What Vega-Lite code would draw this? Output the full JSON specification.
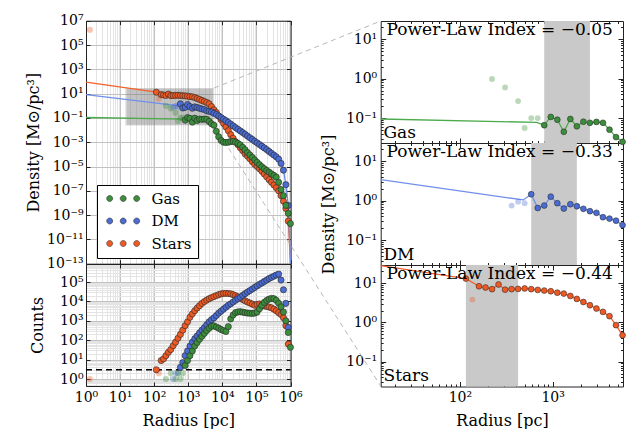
{
"$schema": "https://vega.github.io/schema/vega-lite/v6.json",
"width": 633, "height": 429, "padding": 0, "autosize": {"type": "none"},
"config": {
  "view": {"stroke": null},
  "font": "DejaVu Serif",
  "axis": {"labelFont": "DejaVu Serif", "titleFont": "DejaVu Serif", "labelFontSize": 14, "titleFontSize": 16, "titleFontWeight": "normal", "labelColor": "#000", "titleColor": "#000", "domainColor": "#222", "tickColor": "#222", "labelOverlap": false, "labelFlush": false, "grid": false, "labelBound": false}
},
"datasets": {
  "bins": [
    {"sp":"Stars","r":1.3,"rho":1.8e6,"cnt":1,"ok":0},
    {"sp":"Stars","r":116,"rho":13,"cnt":3,"ok":1},
    {"sp":"Stars","r":136.5,"rho":3.8,"cnt":2,"ok":0},
    {"sp":"Stars","r":160.5,"rho":8.3,"cnt":9,"ok":1},
    {"sp":"Stars","r":188.8,"rho":7.7,"cnt":11,"ok":1},
    {"sp":"Stars","r":222,"rho":7.0,"cnt":16,"ok":1},
    {"sp":"Stars","r":261,"rho":9.2,"cnt":24,"ok":1},
    {"sp":"Stars","r":307,"rho":6.8,"cnt":33,"ok":1},
    {"sp":"Stars","r":361,"rho":7.0,"cnt":52,"ok":1},
    {"sp":"Stars","r":424,"rho":7.1,"cnt":79,"ok":1},
    {"sp":"Stars","r":499,"rho":7.3,"cnt":126,"ok":1},
    {"sp":"Stars","r":587,"rho":7.0,"cnt":200,"ok":1},
    {"sp":"Stars","r":690,"rho":6.7,"cnt":331,"ok":1},
    {"sp":"Stars","r":811,"rho":6.45,"cnt":562,"ok":1},
    {"sp":"Stars","r":954,"rho":6.2,"cnt":891,"ok":1},
    {"sp":"Stars","r":1122,"rho":5.7,"cnt":1514,"ok":1},
    {"sp":"Stars","r":1319,"rho":5.4,"cnt":2291,"ok":1},
    {"sp":"Stars","r":1551,"rho":4.7,"cnt":3311,"ok":1},
    {"sp":"Stars","r":1823,"rho":3.95,"cnt":4571,"ok":1},
    {"sp":"Stars","r":2144,"rho":3.3,"cnt":6026,"ok":1},
    {"sp":"Stars","r":2521,"rho":2.73,"cnt":7943,"ok":1},
    {"sp":"Stars","r":2964,"rho":2.25,"cnt":9772,"ok":1},
    {"sp":"Stars","r":3485,"rho":1.85,"cnt":11749,"ok":1},
    {"sp":"Stars","r":4098,"rho":1.44,"cnt":13804,"ok":1},
    {"sp":"Stars","r":4819,"rho":0.85,"cnt":15849,"ok":1},
    {"sp":"Stars","r":5667,"rho":0.47,"cnt":17783,"ok":1},
    {"sp":"Stars","r":6663,"rho":0.28,"cnt":19953,"ok":1},
    {"sp":"Stars","r":7835,"rho":0.14,"cnt":22387,"ok":1},
    {"sp":"Stars","r":9213,"rho":0.07,"cnt":24547,"ok":1},
    {"sp":"Stars","r":10833,"rho":0.035,"cnt":25704,"ok":1},
    {"sp":"Stars","r":12738,"rho":0.018,"cnt":26303,"ok":1},
    {"sp":"Stars","r":14977,"rho":0.0089,"cnt":25704,"ok":1},
    {"sp":"Stars","r":17611,"rho":0.0042,"cnt":24547,"ok":1},
    {"sp":"Stars","r":20708,"rho":0.0021,"cnt":22387,"ok":1},
    {"sp":"Stars","r":24349,"rho":0.0011,"cnt":19953,"ok":1},
    {"sp":"Stars","r":28631,"rho":6.3e-4,"cnt":17378,"ok":1},
    {"sp":"Stars","r":33666,"rho":3.5e-4,"cnt":14791,"ok":1},
    {"sp":"Stars","r":39586,"rho":2.0e-4,"cnt":12589,"ok":1},
    {"sp":"Stars","r":46547,"rho":1.1e-4,"cnt":10715,"ok":1},
    {"sp":"Stars","r":54732,"rho":7.1e-5,"cnt":9333,"ok":1},
    {"sp":"Stars","r":64357,"rho":4.3e-5,"cnt":8318,"ok":1},
    {"sp":"Stars","r":75674,"rho":2.5e-5,"cnt":7244,"ok":1},
    {"sp":"Stars","r":88981,"rho":1.5e-5,"cnt":6310,"ok":1},
    {"sp":"Stars","r":104628,"rho":1.0e-5,"cnt":7079,"ok":1},
    {"sp":"Stars","r":123027,"rho":6.6e-6,"cnt":7413,"ok":1},
    {"sp":"Stars","r":144660,"rho":4.0e-6,"cnt":6457,"ok":1},
    {"sp":"Stars","r":170098,"rho":2.4e-6,"cnt":5888,"ok":1},
    {"sp":"Stars","r":200008,"rho":1.4e-6,"cnt":5495,"ok":1},
    {"sp":"Stars","r":235179,"rho":8.3e-7,"cnt":5129,"ok":1},
    {"sp":"Stars","r":276534,"rho":5.0e-7,"cnt":4677,"ok":1},
    {"sp":"Stars","r":325161,"rho":3.0e-7,"cnt":3981,"ok":1},
    {"sp":"Stars","r":382339,"rho":1.8e-7,"cnt":3311,"ok":1},
    {"sp":"Stars","r":449571,"rho":1.0e-7,"cnt":2630,"ok":1},
    {"sp":"Stars","r":528627,"rho":4.0e-8,"cnt":2089,"ok":1},
    {"sp":"Stars","r":621584,"rho":1.4e-8,"cnt":1445,"ok":1},
    {"sp":"Stars","r":730883,"rho":3.5e-9,"cnt":562,"ok":1},
    {"sp":"Stars","r":859402,"rho":3.2e-10,"cnt":63,"ok":1},
    {"sp":"Stars","r":1000000,"rho":1.1e-13,"ok":2},
    {"sp":"DM","r":361,"rho":0.75,"cnt":1,"ok":0},
    {"sp":"DM","r":424,"rho":0.94,"cnt":2,"ok":0},
    {"sp":"DM","r":499,"rho":0.86,"cnt":2,"ok":0},
    {"sp":"DM","r":587,"rho":1.45,"cnt":4,"ok":1},
    {"sp":"DM","r":690,"rho":0.65,"cnt":7,"ok":1},
    {"sp":"DM","r":811,"rho":0.75,"cnt":16,"ok":1},
    {"sp":"DM","r":954,"rho":1.26,"cnt":28,"ok":1},
    {"sp":"DM","r":1122,"rho":0.86,"cnt":50,"ok":1},
    {"sp":"DM","r":1319,"rho":0.63,"cnt":79,"ok":1},
    {"sp":"DM","r":1551,"rho":0.81,"cnt":120,"ok":1},
    {"sp":"DM","r":1823,"rho":0.72,"cnt":166,"ok":1},
    {"sp":"DM","r":2144,"rho":0.62,"cnt":240,"ok":1},
    {"sp":"DM","r":2521,"rho":0.54,"cnt":331,"ok":1},
    {"sp":"DM","r":2964,"rho":0.49,"cnt":447,"ok":1},
    {"sp":"DM","r":3485,"rho":0.38,"cnt":631,"ok":1},
    {"sp":"DM","r":4098,"rho":0.35,"cnt":891,"ok":1},
    {"sp":"DM","r":4819,"rho":0.31,"cnt":1148,"ok":1},
    {"sp":"DM","r":5667,"rho":0.24,"cnt":1413,"ok":1},
    {"sp":"DM","r":6663,"rho":0.19,"cnt":1862,"ok":1},
    {"sp":"DM","r":7835,"rho":0.145,"cnt":2512,"ok":1},
    {"sp":"DM","r":9213,"rho":0.107,"cnt":3162,"ok":1},
    {"sp":"DM","r":10833,"rho":0.079,"cnt":3981,"ok":1},
    {"sp":"DM","r":12738,"rho":0.059,"cnt":5012,"ok":1},
    {"sp":"DM","r":14977,"rho":0.043,"cnt":6310,"ok":1},
    {"sp":"DM","r":17611,"rho":0.031,"cnt":7586,"ok":1},
    {"sp":"DM","r":20708,"rho":0.022,"cnt":9333,"ok":1},
    {"sp":"DM","r":24349,"rho":0.016,"cnt":11482,"ok":1},
    {"sp":"DM","r":28631,"rho":0.0117,"cnt":13804,"ok":1},
    {"sp":"DM","r":33666,"rho":0.0085,"cnt":16596,"ok":1},
    {"sp":"DM","r":39586,"rho":0.0062,"cnt":20417,"ok":1},
    {"sp":"DM","r":46547,"rho":0.0045,"cnt":25119,"ok":1},
    {"sp":"DM","r":54732,"rho":0.0032,"cnt":30200,"ok":1},
    {"sp":"DM","r":64357,"rho":0.0023,"cnt":36308,"ok":1},
    {"sp":"DM","r":75674,"rho":0.0017,"cnt":43652,"ok":1},
    {"sp":"DM","r":88981,"rho":0.0012,"cnt":52481,"ok":1},
    {"sp":"DM","r":104628,"rho":8.9e-4,"cnt":63096,"ok":1},
    {"sp":"DM","r":123027,"rho":6.5e-4,"cnt":75858,"ok":1},
    {"sp":"DM","r":144660,"rho":4.7e-4,"cnt":89125,"ok":1},
    {"sp":"DM","r":170098,"rho":3.4e-4,"cnt":107152,"ok":1},
    {"sp":"DM","r":200008,"rho":2.45e-4,"cnt":125893,"ok":1},
    {"sp":"DM","r":235179,"rho":1.74e-4,"cnt":151356,"ok":1},
    {"sp":"DM","r":276534,"rho":1.23e-4,"cnt":173780,"ok":1},
    {"sp":"DM","r":325161,"rho":8.7e-5,"cnt":199526,"ok":1},
    {"sp":"DM","r":382339,"rho":6.2e-5,"cnt":229087,"ok":1},
    {"sp":"DM","r":449571,"rho":4.0e-5,"cnt":257040,"ok":1},
    {"sp":"DM","r":528627,"rho":1.8e-5,"cnt":125893,"ok":1},
    {"sp":"DM","r":621584,"rho":5.0e-6,"cnt":39811,"ok":1},
    {"sp":"DM","r":730883,"rho":3.2e-7,"cnt":7943,"ok":1},
    {"sp":"DM","r":859402,"rho":6.3e-9,"cnt":457,"ok":1},
    {"sp":"DM","r":1000000,"rho":1.1e-13,"ok":2},
    {"sp":"Gas","r":222,"rho":0.98,"cnt":1,"ok":0},
    {"sp":"Gas","r":307,"rho":0.6,"cnt":2,"ok":0},
    {"sp":"Gas","r":424,"rho":0.27,"cnt":1,"ok":0},
    {"sp":"Gas","r":499,"rho":0.056,"cnt":2,"ok":0},
    {"sp":"Gas","r":587,"rho":0.1,"cnt":1,"ok":0},
    {"sp":"Gas","r":690,"rho":0.1,"cnt":2,"ok":0},
    {"sp":"Gas","r":811,"rho":0.066,"cnt":5,"ok":1},
    {"sp":"Gas","r":954,"rho":0.107,"cnt":9,"ok":1},
    {"sp":"Gas","r":1122,"rho":0.091,"cnt":16,"ok":1},
    {"sp":"Gas","r":1319,"rho":0.045,"cnt":28,"ok":1},
    {"sp":"Gas","r":1551,"rho":0.095,"cnt":50,"ok":1},
    {"sp":"Gas","r":1823,"rho":0.062,"cnt":76,"ok":1},
    {"sp":"Gas","r":2144,"rho":0.081,"cnt":112,"ok":1},
    {"sp":"Gas","r":2521,"rho":0.076,"cnt":158,"ok":1},
    {"sp":"Gas","r":2964,"rho":0.08,"cnt":224,"ok":1},
    {"sp":"Gas","r":3485,"rho":0.076,"cnt":316,"ok":1},
    {"sp":"Gas","r":4098,"rho":0.051,"cnt":417,"ok":1},
    {"sp":"Gas","r":4819,"rho":0.033,"cnt":525,"ok":1},
    {"sp":"Gas","r":5667,"rho":0.025,"cnt":550,"ok":1},
    {"sp":"Gas","r":6663,"rho":0.0079,"cnt":479,"ok":1},
    {"sp":"Gas","r":7835,"rho":0.0028,"cnt":417,"ok":1},
    {"sp":"Gas","r":9213,"rho":0.0014,"cnt":355,"ok":1},
    {"sp":"Gas","r":10833,"rho":0.001,"cnt":316,"ok":1},
    {"sp":"Gas","r":12738,"rho":9.5e-4,"cnt":282,"ok":1},
    {"sp":"Gas","r":14977,"rho":0.001,"cnt":501,"ok":1},
    {"sp":"Gas","r":17611,"rho":0.00112,"cnt":1259,"ok":1},
    {"sp":"Gas","r":20708,"rho":0.00117,"cnt":1995,"ok":1},
    {"sp":"Gas","r":24349,"rho":0.001,"cnt":2630,"ok":1},
    {"sp":"Gas","r":28631,"rho":7.9e-4,"cnt":2884,"ok":1},
    {"sp":"Gas","r":33666,"rho":6.0e-4,"cnt":2951,"ok":1},
    {"sp":"Gas","r":39586,"rho":3.8e-4,"cnt":2818,"ok":1},
    {"sp":"Gas","r":46547,"rho":2.4e-4,"cnt":2630,"ok":1},
    {"sp":"Gas","r":54732,"rho":1.41e-4,"cnt":2512,"ok":1},
    {"sp":"Gas","r":64357,"rho":8.9e-5,"cnt":2455,"ok":1},
    {"sp":"Gas","r":75674,"rho":5.6e-5,"cnt":2399,"ok":1},
    {"sp":"Gas","r":88981,"rho":3.5e-5,"cnt":2512,"ok":1},
    {"sp":"Gas","r":104628,"rho":2.2e-5,"cnt":2818,"ok":1},
    {"sp":"Gas","r":123027,"rho":1.41e-5,"cnt":4169,"ok":1},
    {"sp":"Gas","r":144660,"rho":9.5e-6,"cnt":6310,"ok":1},
    {"sp":"Gas","r":170098,"rho":6.6e-6,"cnt":8913,"ok":1},
    {"sp":"Gas","r":200008,"rho":4.7e-6,"cnt":11220,"ok":1},
    {"sp":"Gas","r":235179,"rho":3.4e-6,"cnt":13183,"ok":1},
    {"sp":"Gas","r":276534,"rho":2.5e-6,"cnt":14454,"ok":1},
    {"sp":"Gas","r":325161,"rho":1.86e-6,"cnt":13804,"ok":1},
    {"sp":"Gas","r":382339,"rho":1.32e-6,"cnt":11482,"ok":1},
    {"sp":"Gas","r":449571,"rho":5.0e-7,"cnt":7943,"ok":1},
    {"sp":"Gas","r":528627,"rho":1.26e-7,"cnt":5248,"ok":1},
    {"sp":"Gas","r":621584,"rho":4.0e-8,"cnt":2818,"ok":1},
    {"sp":"Gas","r":730883,"rho":6.3e-9,"cnt":1000,"ok":1},
    {"sp":"Gas","r":859402,"rho":1.41e-9,"cnt":251,"ok":1},
    {"sp":"Gas","r":995000,"rho":2.0e-10,"cnt":43,"ok":1}
  ],
  "fits": [
    {"sp":"Gas","r":1,"rho":0.108,"view":"L"},{"sp":"Gas","r":14,"rho":0.095,"view":"R"},{"sp":"Gas","r":672,"rho":0.078,"view":"B"},{"sp":"Gas","r":811,"rho":0.066,"view":"B"},
    {"sp":"DM","r":1,"rho":8.1,"view":"L"},{"sp":"DM","r":14,"rho":3.4,"view":"R"},{"sp":"DM","r":482,"rho":1.04,"view":"B"},{"sp":"DM","r":587,"rho":1.45,"view":"B"},
    {"sp":"Stars","r":1,"rho":89,"view":"L"},{"sp":"Stars","r":14,"rho":27.9,"view":"R"},{"sp":"Stars","r":116,"rho":13,"view":"B"}
  ],
  "bands": [{"sp":"Gas","r1":811,"r2":2521},{"sp":"DM","r1":587,"r2":1823},{"sp":"Stars","r1":116,"r2":424}],
  "zoomrects": [{"r1":14,"r2":5730,"lo":0.0234,"hi":28.8},{"r1":16,"r2":5000,"lo":0.027,"hi":25},{"r1":15,"r2":5400,"lo":0.025,"hi":27}],
  "links": [{"r":5730,"rho":28.8,"r2":4.44e8,"rho2":9.45e6},{"r":5730,"rho":0.0234,"r2":4.44e8,"rho2":8.5e-24}],
  "thresh": [{"cut":3}],
  "notes": [{"sp":"Gas","index":"Power-Law Index = −0.05"},{"sp":"DM","index":"Power-Law Index = −0.33"},{"sp":"Stars","index":"Power-Law Index = −0.44"}]
},
"layer": [
  {"data":{"name":"zoomrects"},"mark":{"type":"rect","fill":"#7a7a7a","fillOpacity":0.18},
   "encoding":{
     "x":{"field":"r1","type":"quantitative","scale":{"type":"log","domain":[1,1000000],"range":[86,290.5],"nice":false},
          "axis":{"orient":"top","values":[2,3,4,5,6,7,8,9,20,30,40,50,60,70,80,90,200,300,400,500,600,700,800,900,2000,3000,4000,5000,6000,7000,8000,9000,20000,30000,40000,50000,60000,70000,80000,90000,200000,300000,400000,500000,600000,700000,800000,900000],"grid":true,"gridColor":"#e4e4e4","domain":false,"ticks":false,"labels":false,"title":null}},
     "x2":{"field":"r2"},
     "y":{"field":"hi","type":"quantitative","scale":{"type":"log","domain":[1e-13,1e7],"range":[263.7,20.7],"nice":false},"axis":null},
     "y2":{"field":"lo"}}},
  {"data":{"name":"fits"},"transform":[{"filter":"datum.view != 'R'"}],"mark":{"type":"line","strokeWidth":1.3},
   "encoding":{
     "x":{"field":"r","type":"quantitative","scale":{"type":"log","domain":[1,1000000],"range":[86,290.5],"nice":false},
          "axis":{"orient":"top","offset":-20.7,"values":[1,10,100,1000,10000,100000,1000000],"grid":true,"gridColor":"#c2c2c2","domain":true,"ticks":true,"tickSize":-4,"labels":false,"title":null}},
     "y":{"field":"rho","type":"quantitative","scale":{"type":"log","domain":[1e-13,1e7],"range":[263.7,20.7],"nice":false},
          "axis":{"orient":"right","offset":-342.5,"values":[10000000,100000,1000,10,0.1,0.001,0.00001,1e-7,1e-9,1e-11,1e-13],"domain":true,"ticks":true,"tickSize":-4,"labels":false,"title":null}},
     "stroke":{"field":"sp","type":"nominal","scale":{"domain":["Gas","DM","Stars"],"range":["#4daa4d","#6f8fea","#f4602a"]},"legend":null}}},
  {"data":{"name":"bins"},"transform":[{"filter":"datum.ok >= 1"}],"mark":{"type":"line","strokeWidth":1.3},
   "encoding":{
     "x":{"field":"r","type":"quantitative","scale":{"type":"log","domain":[1,1000000],"range":[86,290.5],"nice":false},"axis":null},
     "y":{"field":"rho","type":"quantitative","scale":{"type":"log","domain":[1e-13,1e7],"range":[263.7,20.7],"nice":false},"axis":null},
     "stroke":{"field":"sp","type":"nominal","scale":{"domain":["Gas","DM","Stars"],"range":["#4daa4d","#6f8fea","#f4602a"]},"legend":null}}},
  {"data":{"name":"links"},"mark":{"type":"rule","color":"#b8b8b8","strokeDash":[5,4],"strokeWidth":1},
   "encoding":{
     "x":{"field":"r","type":"quantitative","scale":{"type":"log","domain":[1,1000000],"range":[86,290.5],"nice":false},"axis":null},
     "x2":{"field":"r2"},
     "y":{"field":"rho","type":"quantitative","scale":{"type":"log","domain":[1e-13,1e7],"range":[263.7,20.7],"nice":false},"axis":null},
     "y2":{"field":"rho2"}}},
  {"data":{"name":"bins"},"transform":[{"filter":"datum.ok == 0"}],"mark":{"type":"point","filled":true,"size":38,"opacity":0.35,"strokeWidth":0},
   "encoding":{
     "x":{"field":"r","type":"quantitative","scale":{"type":"log","domain":[1,1000000],"range":[86,290.5],"nice":false},"axis":null},
     "y":{"field":"rho","type":"quantitative","scale":{"type":"log","domain":[1e-13,1e7],"range":[263.7,20.7],"nice":false},"axis":null},
     "color":{"field":"sp","type":"nominal","scale":{"domain":["Gas","DM","Stars"],"range":["#3b8e3b","#4a6cd4","#ef5a24"]},"legend":null}}},
  {"data":{"name":"bins"},"transform":[{"filter":"datum.ok == 1"}],"mark":{"type":"point","filled":true,"size":38,"opacity":1,"stroke":"#2a2a2a","strokeWidth":0.8,"strokeOpacity":0.8},
   "encoding":{
     "x":{"field":"r","type":"quantitative","scale":{"type":"log","domain":[1,1000000],"range":[86,290.5],"nice":false},
          "axis":{"orient":"bottom","offset":-165.3,"values":[1,10,100,1000,10000,100000,1000000],"domain":true,"ticks":true,"tickSize":-4,"labels":false,"title":null}},
     "y":{"field":"rho","type":"quantitative","scale":{"type":"log","domain":[1e-13,1e7],"range":[263.7,20.7],"nice":false},
          "axis":{"orient":"left","offset":-86,"values":[10000000,100000,1000,10,0.1,0.001,0.00001,1e-7,1e-9,1e-11,1e-13],"grid":true,"gridColor":"#c2c2c2","domain":true,"ticks":true,"tickSize":-4,"labelPadding":7,
                  "labelExpr":"'10' + replace(replace(replace(replace(replace(replace(replace(replace(replace(replace(replace(toString(round(log(datum.value)/LN10)),regexp('-','g'),'⁻'),regexp('0','g'),'⁰'),regexp('1','g'),'¹'),regexp('2','g'),'²'),regexp('3','g'),'³'),regexp('4','g'),'⁴'),regexp('5','g'),'⁵'),regexp('6','g'),'⁶'),regexp('7','g'),'⁷'),regexp('8','g'),'⁸'),regexp('9','g'),'⁹')",
                  "title":"Density [M⊙/pc³]","titlePadding":5}},
     "color":{"field":"sp","type":"nominal","scale":{"domain":["Gas","DM","Stars"],"range":["#3b8e3b","#4a6cd4","#ef5a24"]},
              "legend":{"orient":"none","legendX":97,"legendY":185,"direction":"vertical","title":null,"fillColor":"#ffffff","strokeColor":"#000000","cornerRadius":0,"padding":6,
                        "symbolType":"M-3.3,0a0.6,0.6 0 1,0 1.2,0a0.6,0.6 0 1,0 -1.2,0M-0.6,0a0.6,0.6 0 1,0 1.2,0a0.6,0.6 0 1,0 -1.2,0M2.1,0a0.6,0.6 0 1,0 1.2,0a0.6,0.6 0 1,0 -1.2,0",
                        "symbolSize":100,"symbolOpacity":1,"symbolStrokeColor":"#333333","symbolStrokeWidth":0.6,"symbolOffset":12.7,"labelFont":"DejaVu Serif","labelFontSize":15,"labelOffset":20.7,"rowPadding":6.5,"labelColor":"#000"}}}},

  {"data":{"name":"bins"},"transform":[{"filter":"datum.ok == 0"}],"mark":{"type":"point","filled":true,"size":38,"opacity":0.35,"strokeWidth":0},
   "encoding":{
     "x":{"field":"r","type":"quantitative","scale":{"type":"log","domain":[1,1000000],"range":[86,290.5],"nice":false},
          "axis":{"orient":"top","values":[2,3,4,5,6,7,8,9,20,30,40,50,60,70,80,90,200,300,400,500,600,700,800,900,2000,3000,4000,5000,6000,7000,8000,9000,20000,30000,40000,50000,60000,70000,80000,90000,200000,300000,400000,500000,600000,700000,800000,900000],"grid":true,"gridColor":"#e4e4e4","domain":false,"ticks":false,"labels":false,"title":null}},
     "y":{"field":"cnt","type":"quantitative","scale":{"type":"log","domain":[0.436,850000],"range":[386,264],"nice":false},
          "axis":{"orient":"left","values":[0.5,0.6,0.7,0.8,0.9,2,3,4,5,6,7,8,9,20,30,40,50,60,70,80,90,200,300,400,500,600,700,800,900,2000,3000,4000,5000,6000,7000,8000,9000,20000,30000,40000,50000,60000,70000,80000,90000,200000,300000,400000,500000,600000,700000,800000],"grid":true,"gridColor":"#e4e4e4","domain":false,"ticks":false,"labels":false,"title":null}},
     "color":{"field":"sp","type":"nominal","scale":{"domain":["Gas","DM","Stars"],"range":["#3b8e3b","#4a6cd4","#ef5a24"]},"legend":null}}},
  {"data":{"name":"thresh"},"mark":{"type":"rule","color":"#000","strokeDash":[6,4],"strokeWidth":1.5},
   "encoding":{
     "x":{"datum":1,"type":"quantitative","scale":{"type":"log","domain":[1,1000000],"range":[86,290.5],"nice":false},
          "axis":{"orient":"top","offset":-264,"values":[1,10,100,1000,10000,100000,1000000],"grid":true,"gridColor":"#c2c2c2","domain":true,"ticks":true,"tickSize":-4,"labels":false,"title":null}},
     "x2":{"datum":1000000},
     "y":{"field":"cut","type":"quantitative","scale":{"type":"log","domain":[0.436,850000],"range":[386,264],"nice":false},
          "axis":{"orient":"right","offset":-342.5,"values":[1,10,100,1000,10000,100000],"domain":true,"ticks":true,"tickSize":-4,"labels":false,"title":null}}}},
  {"data":{"name":"bins"},"transform":[{"filter":"datum.ok == 1"}],"mark":{"type":"point","filled":true,"size":38,"opacity":1,"stroke":"#2a2a2a","strokeWidth":0.8,"strokeOpacity":0.8},
   "encoding":{
     "x":{"field":"r","type":"quantitative","scale":{"type":"log","domain":[1,1000000],"range":[86,290.5],"nice":false},
          "axis":{"orient":"bottom","offset":-43,"values":[1,10,100,1000,10000,100000,1000000],"domain":true,"ticks":true,"tickSize":-4,"labelPadding":8,
                  "labelExpr":"'10' + replace(replace(replace(replace(replace(replace(replace(replace(replace(replace(replace(toString(round(log(datum.value)/LN10)),regexp('-','g'),'⁻'),regexp('0','g'),'⁰'),regexp('1','g'),'¹'),regexp('2','g'),'²'),regexp('3','g'),'³'),regexp('4','g'),'⁴'),regexp('5','g'),'⁵'),regexp('6','g'),'⁶'),regexp('7','g'),'⁷'),regexp('8','g'),'⁸'),regexp('9','g'),'⁹')",
                  "title":"Radius [pc]","titlePadding":8}},
     "y":{"field":"cnt","type":"quantitative","scale":{"type":"log","domain":[0.436,850000],"range":[386,264],"nice":false},
          "axis":{"orient":"left","offset":-86,"values":[1,10,100,1000,10000,100000],"grid":true,"gridColor":"#c2c2c2","domain":true,"ticks":true,"tickSize":-4,"labelPadding":7,
                  "labelExpr":"'10' + replace(replace(replace(replace(replace(replace(replace(replace(replace(replace(replace(toString(round(log(datum.value)/LN10)),regexp('-','g'),'⁻'),regexp('0','g'),'⁰'),regexp('1','g'),'¹'),regexp('2','g'),'²'),regexp('3','g'),'³'),regexp('4','g'),'⁴'),regexp('5','g'),'⁵'),regexp('6','g'),'⁶'),regexp('7','g'),'⁷'),regexp('8','g'),'⁸'),regexp('9','g'),'⁹')",
                  "title":"Counts","titlePadding":14}},
     "color":{"field":"sp","type":"nominal","scale":{"domain":["Gas","DM","Stars"],"range":["#3b8e3b","#4a6cd4","#ef5a24"]},"legend":null}}},

  {"data":{"name":"bands"},"transform":[{"filter":"datum.sp == 'Gas'"}],"mark":{"type":"rect","fill":"#c9c9c9"},
   "encoding":{
     "x":{"field":"r1","type":"quantitative","scale":{"type":"log","domain":[14,5730],"range":[380.7,623],"nice":false},
          "axis":{"orient":"bottom","offset":-286,"values":[100,1000],"domain":true,"ticks":true,"tickSize":-5,"labels":false,"title":null}},
     "x2":{"field":"r2"},
     "y":{"datum":0.0234,"type":"quantitative","scale":{"type":"log","domain":[0.0234,28.8],"range":[143,21],"nice":false},
          "axis":{"orient":"left","offset":-380.7,"values":[0.1,1,10],"domain":true,"ticks":true,"tickSize":-5,"labelPadding":9,
                  "labelExpr":"'10' + replace(replace(replace(replace(replace(replace(replace(replace(replace(replace(replace(toString(round(log(datum.value)/LN10)),regexp('-','g'),'⁻'),regexp('0','g'),'⁰'),regexp('1','g'),'¹'),regexp('2','g'),'²'),regexp('3','g'),'³'),regexp('4','g'),'⁴'),regexp('5','g'),'⁵'),regexp('6','g'),'⁶'),regexp('7','g'),'⁷'),regexp('8','g'),'⁸'),regexp('9','g'),'⁹')",
                  "title":null}},
     "y2":{"datum":28.8}}},
  {"data":{"name":"fits"},"transform":[{"filter":"datum.sp == 'Gas' && datum.view != 'L'"}],"mark":{"type":"line","strokeWidth":1.3},
   "encoding":{
     "x":{"field":"r","type":"quantitative","scale":{"type":"log","domain":[14,5730],"range":[380.7,623],"nice":false},
          "axis":{"orient":"top","offset":-21,"values":[100,1000],"domain":true,"ticks":true,"tickSize":-5,"labels":false,"title":null}},
     "y":{"field":"rho","type":"quantitative","scale":{"type":"log","domain":[0.0234,28.8],"range":[143,21],"nice":false},
          "axis":{"orient":"right","offset":-10,"values":[0.1,1,10],"domain":true,"ticks":true,"tickSize":-5,"labels":false,"title":null}},
     "stroke":{"field":"sp","type":"nominal","scale":{"domain":["Gas","DM","Stars"],"range":["#4daa4d","#6f8fea","#f4602a"]},"legend":null}}},
  {"data":{"name":"bins"},"transform":[{"filter":"datum.sp == 'Gas' && datum.ok == 1 && datum.r <= 5730"}],"mark":{"type":"line","strokeWidth":1.3},
   "encoding":{
     "x":{"field":"r","type":"quantitative","scale":{"type":"log","domain":[14,5730],"range":[380.7,623],"nice":false},
          "axis":{"orient":"bottom","offset":-286,"values":[20,30,40,50,60,70,80,90,200,300,400,500,600,700,800,900,2000,3000,4000,5000],"domain":false,"ticks":true,"tickSize":-2.5,"labels":false,"title":null}},
     "y":{"field":"rho","type":"quantitative","scale":{"type":"log","domain":[0.0234,28.8],"range":[143,21],"nice":false},
          "axis":{"orient":"left","offset":-380.7,"values":[0.03,0.04,0.05,0.06,0.07,0.08,0.09,0.2,0.3,0.4,0.5,0.6,0.7,0.8,0.9,2,3,4,5,6,7,8,9,20],"domain":false,"ticks":true,"tickSize":-2.5,"labels":false,"title":null}},
     "stroke":{"field":"sp","type":"nominal","scale":{"domain":["Gas","DM","Stars"],"range":["#4daa4d","#6f8fea","#f4602a"]},"legend":null}}},
  {"data":{"name":"bins"},"transform":[{"filter":"datum.sp == 'Gas' && datum.ok == 0 && datum.r >= 14 && datum.r <= 5730"}],"mark":{"type":"point","filled":true,"size":34,"opacity":0.35,"strokeWidth":0},
   "encoding":{
     "x":{"field":"r","type":"quantitative","scale":{"type":"log","domain":[14,5730],"range":[380.7,623],"nice":false},
          "axis":{"orient":"top","offset":-21,"values":[20,30,40,50,60,70,80,90,200,300,400,500,600,700,800,900,2000,3000,4000,5000],"domain":false,"ticks":true,"tickSize":-2.5,"labels":false,"title":null}},
     "y":{"field":"rho","type":"quantitative","scale":{"type":"log","domain":[0.0234,28.8],"range":[143,21],"nice":false},
          "axis":{"orient":"right","offset":-10,"values":[0.03,0.04,0.05,0.06,0.07,0.08,0.09,0.2,0.3,0.4,0.5,0.6,0.7,0.8,0.9,2,3,4,5,6,7,8,9,20],"domain":false,"ticks":true,"tickSize":-2.5,"labels":false,"title":null}},
     "color":{"field":"sp","type":"nominal","scale":{"domain":["Gas","DM","Stars"],"range":["#3b8e3b","#4a6cd4","#ef5a24"]},"legend":null}}},
  {"data":{"name":"bins"},"transform":[{"filter":"datum.sp == 'Gas' && datum.ok == 1 && datum.r <= 5730"}],"mark":{"type":"point","filled":true,"size":34,"opacity":1,"stroke":"#2a2a2a","strokeWidth":0.8,"strokeOpacity":0.7},
   "encoding":{
     "x":{"field":"r","type":"quantitative","scale":{"type":"log","domain":[14,5730],"range":[380.7,623],"nice":false},"axis":null},
     "y":{"field":"rho","type":"quantitative","scale":{"type":"log","domain":[0.0234,28.8],"range":[143,21],"nice":false},"axis":null},
     "color":{"field":"sp","type":"nominal","scale":{"domain":["Gas","DM","Stars"],"range":["#3b8e3b","#4a6cd4","#ef5a24"]},"legend":null}}},
  {"data":{"name":"notes"},"transform":[{"filter":"datum.sp == 'Gas'"}],"mark":{"type":"text","align":"left","baseline":"alphabetic","fontSize":17,"font":"DejaVu Serif","color":"#000"},
   "encoding":{
     "x":{"datum":16.2,"type":"quantitative","scale":{"type":"log","domain":[14,5730],"range":[380.7,623],"nice":false},"axis":null},
     "y":{"datum":12.7,"type":"quantitative","scale":{"type":"log","domain":[0.0234,28.8],"range":[143,21],"nice":false},"axis":null},
     "text":{"field":"index"}}},
  {"data":{"name":"notes"},"transform":[{"filter":"datum.sp == 'Gas'"}],"mark":{"type":"text","align":"left","baseline":"alphabetic","fontSize":17,"font":"DejaVu Serif","color":"#000"},
   "encoding":{
     "x":{"datum":15,"type":"quantitative","scale":{"type":"log","domain":[14,5730],"range":[380.7,623],"nice":false},"axis":null},
     "y":{"datum":0.032,"type":"quantitative","scale":{"type":"log","domain":[0.0234,28.8],"range":[143,21],"nice":false},"axis":null},
     "text":{"field":"sp"}}},

  {"data":{"name":"bands"},"transform":[{"filter":"datum.sp == 'DM'"}],"mark":{"type":"rect","fill":"#c9c9c9"},
   "encoding":{
     "x":{"field":"r1","type":"quantitative","scale":{"type":"log","domain":[14,5730],"range":[380.7,623],"nice":false},
          "axis":{"orient":"bottom","offset":-164,"values":[100,1000],"domain":true,"ticks":true,"tickSize":-5,"labels":false,"title":null}},
     "x2":{"field":"r2"},
     "y":{"datum":0.0234,"type":"quantitative","scale":{"type":"log","domain":[0.0234,28.8],"range":[265,143],"nice":false},
          "axis":{"orient":"left","offset":-380.7,"values":[0.1,1,10],"domain":true,"ticks":true,"tickSize":-5,"labelPadding":9,
                  "labelExpr":"'10' + replace(replace(replace(replace(replace(replace(replace(replace(replace(replace(replace(toString(round(log(datum.value)/LN10)),regexp('-','g'),'⁻'),regexp('0','g'),'⁰'),regexp('1','g'),'¹'),regexp('2','g'),'²'),regexp('3','g'),'³'),regexp('4','g'),'⁴'),regexp('5','g'),'⁵'),regexp('6','g'),'⁶'),regexp('7','g'),'⁷'),regexp('8','g'),'⁸'),regexp('9','g'),'⁹')",
                  "title":"Density [M⊙/pc³]","titlePadding":9}},
     "y2":{"datum":28.8}}},
  {"data":{"name":"fits"},"transform":[{"filter":"datum.sp == 'DM' && datum.view != 'L'"}],"mark":{"type":"line","strokeWidth":1.3},
   "encoding":{
     "x":{"field":"r","type":"quantitative","scale":{"type":"log","domain":[14,5730],"range":[380.7,623],"nice":false},
          "axis":{"orient":"top","offset":-143,"values":[100,1000],"domain":true,"ticks":true,"tickSize":-5,"labels":false,"title":null}},
     "y":{"field":"rho","type":"quantitative","scale":{"type":"log","domain":[0.0234,28.8],"range":[265,143],"nice":false},
          "axis":{"orient":"right","offset":-10,"values":[0.1,1,10],"domain":true,"ticks":true,"tickSize":-5,"labels":false,"title":null}},
     "stroke":{"field":"sp","type":"nominal","scale":{"domain":["Gas","DM","Stars"],"range":["#4daa4d","#6f8fea","#f4602a"]},"legend":null}}},
  {"data":{"name":"bins"},"transform":[{"filter":"datum.sp == 'DM' && datum.ok == 1 && datum.r <= 5730"}],"mark":{"type":"line","strokeWidth":1.3},
   "encoding":{
     "x":{"field":"r","type":"quantitative","scale":{"type":"log","domain":[14,5730],"range":[380.7,623],"nice":false},
          "axis":{"orient":"bottom","offset":-164,"values":[20,30,40,50,60,70,80,90,200,300,400,500,600,700,800,900,2000,3000,4000,5000],"domain":false,"ticks":true,"tickSize":-2.5,"labels":false,"title":null}},
     "y":{"field":"rho","type":"quantitative","scale":{"type":"log","domain":[0.0234,28.8],"range":[265,143],"nice":false},
          "axis":{"orient":"left","offset":-380.7,"values":[0.03,0.04,0.05,0.06,0.07,0.08,0.09,0.2,0.3,0.4,0.5,0.6,0.7,0.8,0.9,2,3,4,5,6,7,8,9,20],"domain":false,"ticks":true,"tickSize":-2.5,"labels":false,"title":null}},
     "stroke":{"field":"sp","type":"nominal","scale":{"domain":["Gas","DM","Stars"],"range":["#4daa4d","#6f8fea","#f4602a"]},"legend":null}}},
  {"data":{"name":"bins"},"transform":[{"filter":"datum.sp == 'DM' && datum.ok == 0 && datum.r >= 14 && datum.r <= 5730"}],"mark":{"type":"point","filled":true,"size":34,"opacity":0.35,"strokeWidth":0},
   "encoding":{
     "x":{"field":"r","type":"quantitative","scale":{"type":"log","domain":[14,5730],"range":[380.7,623],"nice":false},
          "axis":{"orient":"top","offset":-143,"values":[20,30,40,50,60,70,80,90,200,300,400,500,600,700,800,900,2000,3000,4000,5000],"domain":false,"ticks":true,"tickSize":-2.5,"labels":false,"title":null}},
     "y":{"field":"rho","type":"quantitative","scale":{"type":"log","domain":[0.0234,28.8],"range":[265,143],"nice":false},
          "axis":{"orient":"right","offset":-10,"values":[0.03,0.04,0.05,0.06,0.07,0.08,0.09,0.2,0.3,0.4,0.5,0.6,0.7,0.8,0.9,2,3,4,5,6,7,8,9,20],"domain":false,"ticks":true,"tickSize":-2.5,"labels":false,"title":null}},
     "color":{"field":"sp","type":"nominal","scale":{"domain":["Gas","DM","Stars"],"range":["#3b8e3b","#4a6cd4","#ef5a24"]},"legend":null}}},
  {"data":{"name":"bins"},"transform":[{"filter":"datum.sp == 'DM' && datum.ok == 1 && datum.r <= 5730"}],"mark":{"type":"point","filled":true,"size":34,"opacity":1,"stroke":"#2a2a2a","strokeWidth":0.8,"strokeOpacity":0.7},
   "encoding":{
     "x":{"field":"r","type":"quantitative","scale":{"type":"log","domain":[14,5730],"range":[380.7,623],"nice":false},"axis":null},
     "y":{"field":"rho","type":"quantitative","scale":{"type":"log","domain":[0.0234,28.8],"range":[265,143],"nice":false},"axis":null},
     "color":{"field":"sp","type":"nominal","scale":{"domain":["Gas","DM","Stars"],"range":["#3b8e3b","#4a6cd4","#ef5a24"]},"legend":null}}},
  {"data":{"name":"notes"},"transform":[{"filter":"datum.sp == 'DM'"}],"mark":{"type":"text","align":"left","baseline":"alphabetic","fontSize":17,"font":"DejaVu Serif","color":"#000"},
   "encoding":{
     "x":{"datum":16.2,"type":"quantitative","scale":{"type":"log","domain":[14,5730],"range":[380.7,623],"nice":false},"axis":null},
     "y":{"datum":12.7,"type":"quantitative","scale":{"type":"log","domain":[0.0234,28.8],"range":[265,143],"nice":false},"axis":null},
     "text":{"field":"index"}}},
  {"data":{"name":"notes"},"transform":[{"filter":"datum.sp == 'DM'"}],"mark":{"type":"text","align":"left","baseline":"alphabetic","fontSize":17,"font":"DejaVu Serif","color":"#000"},
   "encoding":{
     "x":{"datum":15,"type":"quantitative","scale":{"type":"log","domain":[14,5730],"range":[380.7,623],"nice":false},"axis":null},
     "y":{"datum":0.032,"type":"quantitative","scale":{"type":"log","domain":[0.0234,28.8],"range":[265,143],"nice":false},"axis":null},
     "text":{"field":"sp"}}},

  {"data":{"name":"bands"},"transform":[{"filter":"datum.sp == 'Stars'"}],"mark":{"type":"rect","fill":"#c9c9c9"},
   "encoding":{
     "x":{"field":"r1","type":"quantitative","scale":{"type":"log","domain":[14,5730],"range":[380.7,623],"nice":false},
          "axis":{"orient":"bottom","offset":-42.5,"values":[100,1000],"domain":true,"ticks":true,"tickSize":-5,"labelPadding":9,
                  "labelExpr":"'10' + replace(replace(replace(replace(replace(replace(replace(replace(replace(replace(replace(toString(round(log(datum.value)/LN10)),regexp('-','g'),'⁻'),regexp('0','g'),'⁰'),regexp('1','g'),'¹'),regexp('2','g'),'²'),regexp('3','g'),'³'),regexp('4','g'),'⁴'),regexp('5','g'),'⁵'),regexp('6','g'),'⁶'),regexp('7','g'),'⁷'),regexp('8','g'),'⁸'),regexp('9','g'),'⁹')",
                  "title":"Radius [pc]","titlePadding":8}},
     "x2":{"field":"r2"},
     "y":{"datum":0.0234,"type":"quantitative","scale":{"type":"log","domain":[0.0234,28.8],"range":[386.5,265],"nice":false},
          "axis":{"orient":"left","offset":-380.7,"values":[0.1,1,10],"domain":true,"ticks":true,"tickSize":-5,"labelPadding":9,
                  "labelExpr":"'10' + replace(replace(replace(replace(replace(replace(replace(replace(replace(replace(replace(toString(round(log(datum.value)/LN10)),regexp('-','g'),'⁻'),regexp('0','g'),'⁰'),regexp('1','g'),'¹'),regexp('2','g'),'²'),regexp('3','g'),'³'),regexp('4','g'),'⁴'),regexp('5','g'),'⁵'),regexp('6','g'),'⁶'),regexp('7','g'),'⁷'),regexp('8','g'),'⁸'),regexp('9','g'),'⁹')",
                  "title":null}},
     "y2":{"datum":28.8}}},
  {"data":{"name":"fits"},"transform":[{"filter":"datum.sp == 'Stars' && datum.view != 'L'"}],"mark":{"type":"line","strokeWidth":1.3},
   "encoding":{
     "x":{"field":"r","type":"quantitative","scale":{"type":"log","domain":[14,5730],"range":[380.7,623],"nice":false},
          "axis":{"orient":"top","offset":-265,"values":[100,1000],"domain":true,"ticks":true,"tickSize":-5,"labels":false,"title":null}},
     "y":{"field":"rho","type":"quantitative","scale":{"type":"log","domain":[0.0234,28.8],"range":[386.5,265],"nice":false},
          "axis":{"orient":"right","offset":-10,"values":[0.1,1,10],"domain":true,"ticks":true,"tickSize":-5,"labels":false,"title":null}},
     "stroke":{"field":"sp","type":"nominal","scale":{"domain":["Gas","DM","Stars"],"range":["#4daa4d","#6f8fea","#f4602a"]},"legend":null}}},
  {"data":{"name":"bins"},"transform":[{"filter":"datum.sp == 'Stars' && datum.ok == 1 && datum.r <= 5730"}],"mark":{"type":"line","strokeWidth":1.3},
   "encoding":{
     "x":{"field":"r","type":"quantitative","scale":{"type":"log","domain":[14,5730],"range":[380.7,623],"nice":false},
          "axis":{"orient":"bottom","offset":-42.5,"values":[20,30,40,50,60,70,80,90,200,300,400,500,600,700,800,900,2000,3000,4000,5000],"domain":false,"ticks":true,"tickSize":-2.5,"labels":false,"title":null}},
     "y":{"field":"rho","type":"quantitative","scale":{"type":"log","domain":[0.0234,28.8],"range":[386.5,265],"nice":false},
          "axis":{"orient":"left","offset":-380.7,"values":[0.03,0.04,0.05,0.06,0.07,0.08,0.09,0.2,0.3,0.4,0.5,0.6,0.7,0.8,0.9,2,3,4,5,6,7,8,9,20],"domain":false,"ticks":true,"tickSize":-2.5,"labels":false,"title":null}},
     "stroke":{"field":"sp","type":"nominal","scale":{"domain":["Gas","DM","Stars"],"range":["#4daa4d","#6f8fea","#f4602a"]},"legend":null}}},
  {"data":{"name":"bins"},"transform":[{"filter":"datum.sp == 'Stars' && datum.ok == 0 && datum.r >= 14 && datum.r <= 5730"}],"mark":{"type":"point","filled":true,"size":34,"opacity":0.35,"strokeWidth":0},
   "encoding":{
     "x":{"field":"r","type":"quantitative","scale":{"type":"log","domain":[14,5730],"range":[380.7,623],"nice":false},
          "axis":{"orient":"top","offset":-265,"values":[20,30,40,50,60,70,80,90,200,300,400,500,600,700,800,900,2000,3000,4000,5000],"domain":false,"ticks":true,"tickSize":-2.5,"labels":false,"title":null}},
     "y":{"field":"rho","type":"quantitative","scale":{"type":"log","domain":[0.0234,28.8],"range":[386.5,265],"nice":false},
          "axis":{"orient":"right","offset":-10,"values":[0.03,0.04,0.05,0.06,0.07,0.08,0.09,0.2,0.3,0.4,0.5,0.6,0.7,0.8,0.9,2,3,4,5,6,7,8,9,20],"domain":false,"ticks":true,"tickSize":-2.5,"labels":false,"title":null}},
     "color":{"field":"sp","type":"nominal","scale":{"domain":["Gas","DM","Stars"],"range":["#3b8e3b","#4a6cd4","#ef5a24"]},"legend":null}}},
  {"data":{"name":"bins"},"transform":[{"filter":"datum.sp == 'Stars' && datum.ok == 1 && datum.r <= 5730"}],"mark":{"type":"point","filled":true,"size":34,"opacity":1,"stroke":"#2a2a2a","strokeWidth":0.8,"strokeOpacity":0.7},
   "encoding":{
     "x":{"field":"r","type":"quantitative","scale":{"type":"log","domain":[14,5730],"range":[380.7,623],"nice":false},"axis":null},
     "y":{"field":"rho","type":"quantitative","scale":{"type":"log","domain":[0.0234,28.8],"range":[386.5,265],"nice":false},"axis":null},
     "color":{"field":"sp","type":"nominal","scale":{"domain":["Gas","DM","Stars"],"range":["#3b8e3b","#4a6cd4","#ef5a24"]},"legend":null}}},
  {"data":{"name":"notes"},"transform":[{"filter":"datum.sp == 'Stars'"}],"mark":{"type":"text","align":"left","baseline":"alphabetic","fontSize":17,"font":"DejaVu Serif","color":"#000"},
   "encoding":{
     "x":{"datum":16.2,"type":"quantitative","scale":{"type":"log","domain":[14,5730],"range":[380.7,623],"nice":false},"axis":null},
     "y":{"datum":12.7,"type":"quantitative","scale":{"type":"log","domain":[0.0234,28.8],"range":[386.5,265],"nice":false},"axis":null},
     "text":{"field":"index"}}},
  {"data":{"name":"notes"},"transform":[{"filter":"datum.sp == 'Stars'"}],"mark":{"type":"text","align":"left","baseline":"alphabetic","fontSize":17,"font":"DejaVu Serif","color":"#000"},
   "encoding":{
     "x":{"datum":15,"type":"quantitative","scale":{"type":"log","domain":[14,5730],"range":[380.7,623],"nice":false},"axis":null},
     "y":{"datum":0.032,"type":"quantitative","scale":{"type":"log","domain":[0.0234,28.8],"range":[386.5,265],"nice":false},"axis":null},
     "text":{"field":"sp"}}}
],
"resolve": {"scale": {"x": "independent", "y": "independent", "color": "independent", "stroke": "independent"}, "axis": {"x": "independent", "y": "independent"}, "legend": {"color": "independent", "stroke": "independent"}}
}
